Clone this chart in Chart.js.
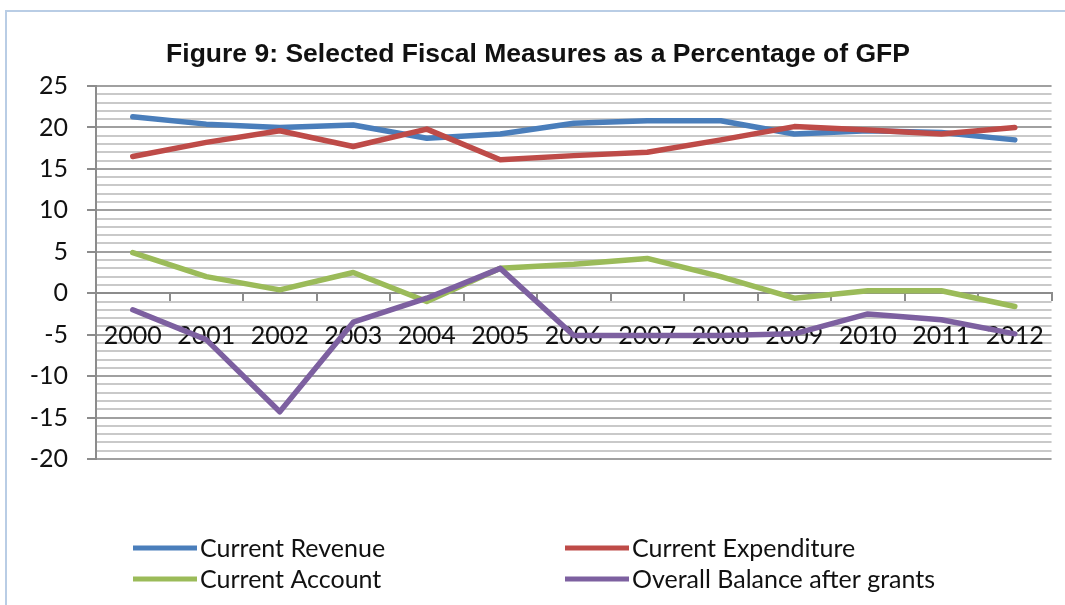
<!DOCTYPE html>
<html>
<head>
<meta charset="utf-8">
<script src="https://cdn.jsdelivr.net/npm/chart.js@4.4.0/dist/chart.umd.min.js"></script>
<style>
  html, body { margin: 0; padding: 0; background: #fff; }
  #wrap { position: relative; width: 1065px; height: 605px; overflow: hidden; }
  #frame { position: absolute; left: 5px; top: 10px; right: -4px; bottom: -4px;
           border-top: 2px solid #b9cde5; border-left: 2px solid #b9cde5; pointer-events: none; }
  canvas { position: absolute; left: 0; top: 0; }
</style>
</head>
<body>
<div id="wrap">
  <canvas id="chart" width="1065" height="605"></canvas>
  <div id="frame"></div>
</div>
<script>
// Fiscal series, % of GFP, 2000-2012
const years = ['2000', '2001', '2002', '2003', '2004', '2005', '2006',
               '2007', '2008', '2009', '2010', '2011', '2012'];
const currentRevenue     = [21.3, 20.4, 20.0, 20.3, 18.7, 19.2, 20.5, 20.8, 20.8, 19.2, 19.6, 19.4, 18.5];
const currentExpenditure = [16.5, 18.2, 19.6, 17.7, 19.8, 16.1, 16.6, 17.0, 18.5, 20.1, 19.7, 19.2, 20.0];
const currentAccount     = [4.9, 2.0, 0.4, 2.5, -1.0, 3.0, 3.5, 4.2, 2.0, -0.6, 0.3, 0.3, -1.6];
const overallBalance     = [-2.0, -5.6, -14.3, -3.5, -0.6, 3.0, -5.1, -5.1, -5.1, -4.9, -2.5, -3.2, -4.9];

const seriesNames = ['Current Revenue', 'Current Expenditure', 'Current Account', 'Overall Balance after grants'];
const titleText = 'Figure 9: Selected Fiscal Measures as a Percentage of GFP';

const yMin = -20, yMax = 25, yMajorStep = 5, yMinorStep = 1;

const FONT = "Lato, 'Liberation Sans', Arial, sans-serif";
const TITLE_FONT = "'Liberation Sans', Arial, sans-serif";
const COLORS = ['#4a7ebb', '#be4b48', '#9bbb59', '#7d60a0'];

// Title and the 2x2 legend block under the plot
const decorations = {
  id: 'decorations',
  afterDraw(chart) {
    const ctx = chart.ctx;
    ctx.save();
    ctx.fillStyle = '#111';
    ctx.font = "bold 26.5px " + TITLE_FONT;
    ctx.textAlign = 'center';
    ctx.textBaseline = 'middle';
    ctx.fillText(titleText, 538, 55);

    const slots = [[133, 548], [565, 548], [133, 579], [565, 579]];
    ctx.font = "25px " + FONT;
    ctx.textAlign = 'left';
    chart.data.datasets.forEach((ds, i) => {
      const [x, y] = slots[i];
      ctx.strokeStyle = ds.borderColor;
      ctx.lineWidth = 5;
      ctx.lineCap = 'butt';
      ctx.beginPath();
      ctx.moveTo(x, y);
      ctx.lineTo(x + 64, y);
      ctx.stroke();
      ctx.fillStyle = '#111';
      ctx.fillText(ds.label, x + 67, y + 1);
    });
    ctx.restore();
  }
};

const isMajor = v => Math.abs(v % yMajorStep) < 1e-9;

new Chart(document.getElementById('chart'), {
  type: 'line',
  data: {
    labels: years,
    datasets: [
      { label: seriesNames[0], data: currentRevenue,     borderColor: COLORS[0], order: 4 },
      { label: seriesNames[1], data: currentExpenditure, borderColor: COLORS[1], order: 3 },
      { label: seriesNames[2], data: currentAccount,     borderColor: COLORS[2], order: 2 },
      { label: seriesNames[3], data: overallBalance,     borderColor: COLORS[3], order: 1 }
    ]
  },
  options: {
    responsive: false,
    animation: false,
    layout: { padding: { top: 86, right: 5, bottom: 146, left: 0 } },
    plugins: {
      legend: { display: false },
      title: { display: false },
      tooltip: { enabled: false }
    },
    elements: {
      line: { borderWidth: 5.5, tension: 0, borderCapStyle: 'round', borderJoinStyle: 'round', fill: false },
      point: { radius: 0, hoverRadius: 0 }
    },
    scales: {
      y: {
        min: yMin,
        max: yMax,
        afterFit(scale) { scale.width = 96; },
        ticks: {
          stepSize: yMinorStep,
          autoSkip: false,
          padding: 19,
          color: '#111',
          font: { family: FONT, size: 25 },
          callback: v => (isMajor(v) ? String(v) : '')
        },
        grid: {
          color: c => (isMajor(c.tick.value) ? '#a0a0a0' : '#c9c9c9'),
          lineWidth: 2,
          tickLength: 9,
          tickColor: c => (isMajor(c.tick.value) ? '#8c8c8c' : 'rgba(0,0,0,0)'),
          tickWidth: 2
        },
        border: { display: true, color: '#8c8c8c', width: 2 }
      },
      x: {
        position: { y: 0 },
        offset: true,
        grid: {
          drawOnChartArea: false,
          offset: true,
          tickLength: 7,
          color: '#8c8c8c',
          lineWidth: 2
        },
        border: { display: true, color: '#8c8c8c', width: 2 },
        ticks: {
          padding: 21,
          autoSkip: false,
          maxRotation: 0,
          color: '#111',
          font: { family: FONT, size: 25 }
        }
      }
    }
  },
  plugins: [decorations]
});
</script>
</body>
</html>
